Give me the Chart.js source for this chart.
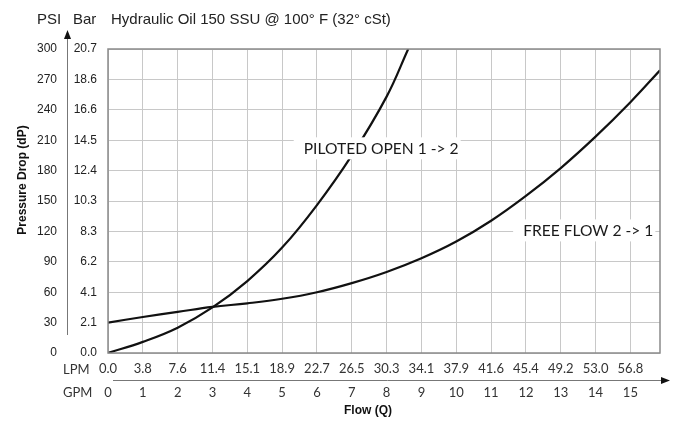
<!DOCTYPE html>
<html>
<head>
<meta charset="utf-8">
<script src="https://cdn.jsdelivr.net/npm/chart.js@4.4.1/dist/chart.umd.min.js"></script>
<style>
  html, body { margin: 0; padding: 0; background: #fff; }
</style>
</head>
<body>
<canvas id="myChart" width="674" height="422"></canvas>
<script>
// flow in GPM, pressure drop in PSI
var gpmTicks = [0, 1, 2, 3, 4, 5, 6, 7, 8, 9, 10, 11, 12, 13, 14, 15];
var lpmLabels = ['0.0', '3.8', '7.6', '11.4', '15.1', '18.9', '22.7', '26.5', '30.3', '34.1', '37.9', '41.6', '45.4', '49.2', '53.0', '56.8'];
var barLabels = ['0.0', '2.1', '4.1', '6.2', '8.3', '10.3', '12.4', '14.5', '16.6', '18.6', '20.7'];

var pilotedFlow = [0, 1, 2, 3, 4, 5, 6, 7, 8, 8.62];
var pilotedPsi = [0, 11, 25, 45, 71, 104, 146, 195, 253, 300];

var freeFlow = [0, 1, 2, 3, 4, 5, 6, 7, 8, 9, 10, 11, 12, 13, 14, 15, 15.85];
var freePsi = [30, 35.5, 40.5, 45.5, 49, 53.5, 60, 69, 80, 93.5, 110, 130.5, 155, 182.5, 213.5, 247.5, 279];

var gpmMax = 15.85; // 60 LPM

function pts(xs, ys) {
  return xs.map(function (x, i) { return {x: x, y: ys[i]}; });
}

var curveLabels = [
  {text: 'PILOTED OPEN 1 -> 2', x: 5.62, y: 201},
  {text: 'FREE FLOW 2 -> 1', x: 11.92, y: 120}
];

var extras = {
  id: 'extras',
  afterDatasetsDraw: function (chart) {
    var ctx = chart.ctx, sx = chart.scales.x, sy = chart.scales.y;
    ctx.save();
    ctx.font = '15.6px Lato';
    ctx.textBaseline = 'middle';
    curveLabels.forEach(function (l) {
      var px = sx.getPixelForValue(l.x), py = sy.getPixelForValue(l.y);
      var w = ctx.measureText(l.text).width;
      ctx.fillStyle = '#fff';
      ctx.fillRect(px - 10, py - 12, w + 12, 22);
      ctx.fillStyle = '#1a1a1a';
      ctx.fillText(l.text, px, py);
    });
    ctx.restore();
  },
  afterDraw: function (chart) {
    var ctx = chart.ctx, ca = chart.chartArea;
    var yPsi = chart.scales.y, xL = chart.scales.xL;
    ctx.save();
    // plot frame
    ctx.strokeStyle = '#8a8a8a';
    ctx.lineWidth = 1.5;
    ctx.strokeRect(ca.left, ca.top, ca.right - ca.left, ca.bottom - ca.top);

    // vertical arrow
    var ax = Math.round(yPsi.right) + 0.5;
    ctx.strokeStyle = '#777';
    ctx.lineWidth = 1;
    ctx.beginPath(); ctx.moveTo(ax, 38); ctx.lineTo(ax, 335); ctx.stroke();
    ctx.fillStyle = '#111';
    ctx.beginPath(); ctx.moveTo(ax, 30); ctx.lineTo(ax - 3.5, 39); ctx.lineTo(ax + 3.5, 39); ctx.closePath(); ctx.fill();

    // horizontal arrow
    var ay = Math.round(xL.bottom) - 0.5;
    ctx.beginPath(); ctx.moveTo(113, ay); ctx.lineTo(662, ay); ctx.stroke();
    ctx.beginPath(); ctx.moveTo(670, ay); ctx.lineTo(661, ay - 3.5); ctx.lineTo(661, ay + 3.5); ctx.closePath(); ctx.fill();

    // header
    ctx.fillStyle = '#222';
    ctx.font = '15px "Liberation Sans", Arial';
    ctx.textBaseline = 'middle';
    ctx.textAlign = 'left';
    ctx.fillText('PSI', 37, 20);
    ctx.fillText('Bar', 73, 20);
    ctx.fillText('Hydraulic Oil 150 SSU @ 100\u00b0 F (32\u00b0 cSt)', 111, 20);

    // row names for the flow axes
    ctx.fillStyle = '#333';
    ctx.font = '13px Lato';
    ctx.fillText('LPM', 63, 370);
    ctx.fillText('GPM', 63, 393);

    // axis titles
    ctx.fillStyle = '#111';
    ctx.font = 'bold 12px "Liberation Sans", Arial';
    ctx.textAlign = 'center';
    ctx.fillText('Flow (Q)', 368, 411);
    ctx.translate(22.5, 180);
    ctx.rotate(-Math.PI / 2);
    ctx.fillText('Pressure Drop (dP)', 0, 0);
    ctx.restore();
  }
};

var ctx = document.getElementById('myChart').getContext('2d');
var myChart = new Chart(ctx, {
  type: 'scatter',
  data: {
    datasets: [{
      label: 'PILOTED OPEN 1 -> 2',
      data: pts(pilotedFlow, pilotedPsi),
      showLine: true,
      borderColor: '#111',
      borderWidth: 2.2,
      pointRadius: 0,
      tension: 0.4,
      xAxisID: 'x',
      yAxisID: 'y'
    }, {
      label: 'FREE FLOW 2 -> 1',
      data: pts(freeFlow, freePsi),
      showLine: true,
      borderColor: '#111',
      borderWidth: 2.2,
      pointRadius: 0,
      tension: 0.4,
      xAxisID: 'x',
      yAxisID: 'y'
    }]
  },
  options: {
    responsive: false,
    animation: false,
    layout: { padding: { top: 49, right: 14, left: 0, bottom: 0 } },
    scales: {
      y: {
        position: 'left',
        weight: 1,
        min: 0, max: 300,
        afterFit: function (s) { s.width = 67; },
        ticks: { stepSize: 30, padding: 10, color: '#222', font: { family: '"Liberation Sans", Arial', size: 12 } },
        grid: { color: '#c8c8c8', drawTicks: false },
        border: { display: false }
      },
      yBar: {
        position: 'left',
        weight: 0,
        min: 0, max: 300,
        afterFit: function (s) { s.width = 41; },
        ticks: {
          stepSize: 30, padding: 11, color: '#222',
          font: { family: '"Liberation Sans", Arial', size: 12 },
          callback: function (v) { return barLabels[Math.round(v / 30)]; }
        },
        grid: { display: false, drawTicks: false },
        border: { display: false }
      },
      xL: {
        type: 'linear',
        position: 'bottom',
        weight: 0,
        min: 0, max: gpmMax,
        afterFit: function (s) { s.height = 28; },
        afterBuildTicks: function (s) { s.ticks = gpmTicks.map(function (v) { return {value: v}; }); },
        ticks: {
          padding: 8, color: '#333', maxRotation: 0, autoSkip: false,
          font: { family: 'Lato', size: 13 },
          callback: function (v) { return lpmLabels[v]; }
        },
        grid: { display: false, drawTicks: false },
        border: { display: false }
      },
      x: {
        type: 'linear',
        position: 'bottom',
        weight: 1,
        min: 0, max: gpmMax,
        afterFit: function (s) { s.height = 41; },
        afterBuildTicks: function (s) { s.ticks = gpmTicks.map(function (v) { return {value: v}; }); },
        ticks: {
          padding: 4, color: '#333', maxRotation: 0, autoSkip: false,
          font: { family: 'Lato', size: 13 }
        },
        grid: { color: '#c8c8c8', drawTicks: false },
        border: { display: false }
      }
    },
    plugins: {
      legend: { display: false },
      tooltip: { enabled: false }
    }
  },
  plugins: [extras]
});
</script>
</body>
</html>
